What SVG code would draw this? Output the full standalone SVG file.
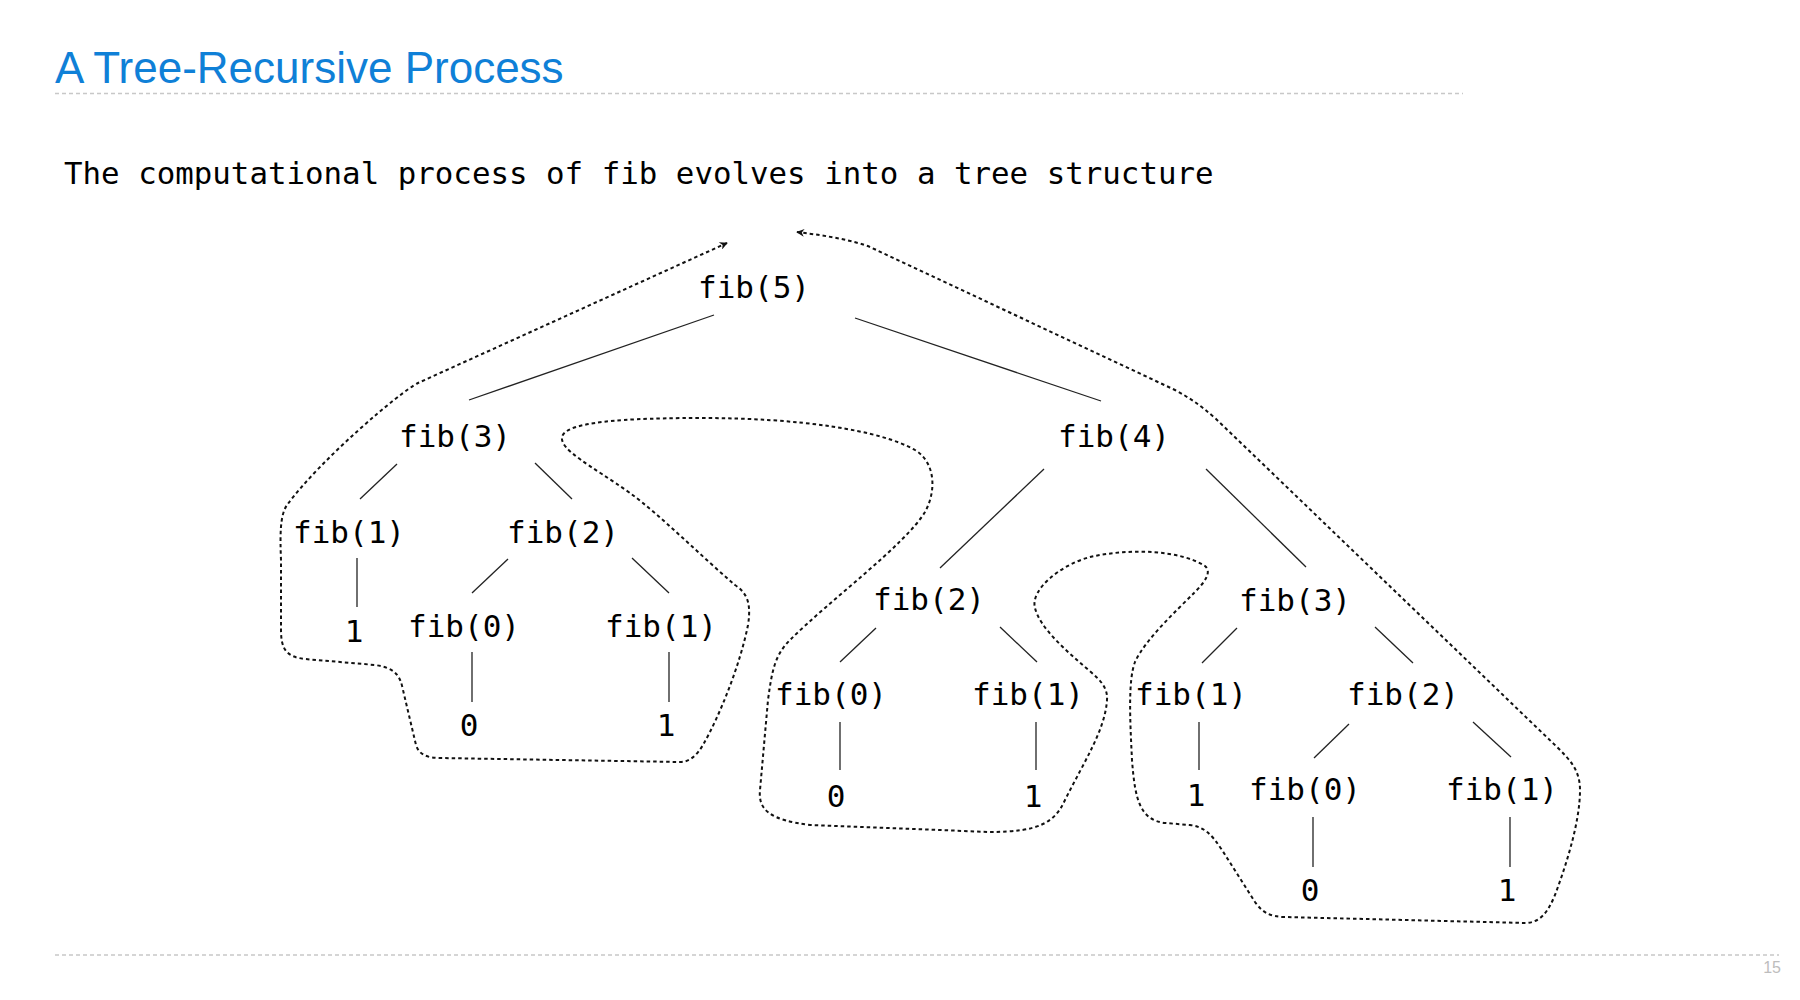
<svg xmlns="http://www.w3.org/2000/svg" width="1800" height="1000" viewBox="0 0 1800 1000">
<defs>
<style>
.title{font-family:"Liberation Sans",Arial,sans-serif;font-size:44px;fill:#0f80d7}
.mono{font-family:"DejaVu Sans Mono","Liberation Mono",monospace;font-size:30.8px;fill:#000}
.node text{font-family:"DejaVu Sans Mono","Liberation Mono",monospace;font-size:31px;fill:#000;text-anchor:middle}
.edge{stroke:#222;stroke-width:1.3;fill:none}
.rule{stroke:#c8c8c8;stroke-width:1.3;stroke-dasharray:4 3;fill:none}
.trace{stroke:#111;stroke-width:2;stroke-dasharray:3.5 3;fill:none}
.pg{font-family:"Liberation Sans",Arial,sans-serif;font-size:16px;fill:#bdbdbd;text-anchor:end}
</style>
<marker id="ah" viewBox="0 0 10 10" refX="9" refY="5" markerWidth="9" markerHeight="8" markerUnits="userSpaceOnUse" orient="auto-start-reverse">
<path d="M0,0 L10,5 L0,10 L3,5 z" fill="#111"/>
</marker>
</defs>
<rect width="1800" height="1000" fill="#fff"/>
<g id="header">
<text class="title" x="55" y="83">A Tree-Recursive Process</text>
<line class="rule" x1="55" y1="93.5" x2="1463" y2="93.5"/>
<text class="mono" x="64" y="184">The computational process of fib evolves into a tree structure</text>
</g>
<g id="connectors">
<line class="edge" x1="714" y1="315" x2="469" y2="400"/>
<line class="edge" x1="855" y1="318" x2="1101" y2="401"/>
<line class="edge" x1="397" y1="464" x2="360" y2="499"/>
<line class="edge" x1="535" y1="463" x2="572" y2="499"/>
<line class="edge" x1="357" y1="558" x2="357" y2="607"/>
<line class="edge" x1="508" y1="559" x2="472" y2="593"/>
<line class="edge" x1="632" y1="558" x2="669" y2="593"/>
<line class="edge" x1="472" y1="652" x2="472" y2="702"/>
<line class="edge" x1="669" y1="652" x2="669" y2="702"/>
<line class="edge" x1="1044" y1="469" x2="940" y2="568"/>
<line class="edge" x1="1206" y1="469" x2="1306" y2="567"/>
<line class="edge" x1="876" y1="628" x2="840" y2="662"/>
<line class="edge" x1="1000" y1="627" x2="1037" y2="662"/>
<line class="edge" x1="840" y1="722" x2="840" y2="770"/>
<line class="edge" x1="1036" y1="722" x2="1036" y2="770"/>
<line class="edge" x1="1237" y1="628" x2="1202" y2="663"/>
<line class="edge" x1="1375" y1="627" x2="1413" y2="663"/>
<line class="edge" x1="1199" y1="722" x2="1199" y2="770"/>
<line class="edge" x1="1349" y1="724" x2="1314" y2="758"/>
<line class="edge" x1="1473" y1="722" x2="1511" y2="757"/>
<line class="edge" x1="1313" y1="817" x2="1313" y2="867"/>
<line class="edge" x1="1510" y1="817" x2="1510" y2="867"/>
<path id="trace" class="trace" marker-start="url(#ah)" marker-end="url(#ah)" d="M727,243 L418,383 C400,392 320,460 287,505 C280,515 280,535 281,560 L281,630 C281,650 287,657 305,659 L375,665 C395,668 400,675 403,690 L416,745 C419,755 428,758 440,758 L680,762 C690,762 697,755 703,745 C720,715 740,665 748,625 C752,600 745,592 735,585 C700,555 660,515 630,493 C590,465 560,450 562,437 C565,425 600,418 700,418 C800,418 880,430 915,450 C935,462 937,490 925,512 C905,545 830,600 790,640 C775,655 772,670 768,700 L760,790 C758,810 770,820 810,825 L990,832 C1040,832 1055,822 1065,800 C1085,760 1105,730 1107,700 C1108,688 1100,680 1092,673 C1065,650 1040,628 1035,608 C1030,590 1060,565 1090,557 C1130,548 1180,550 1205,566 C1212,572 1205,582 1195,592 C1175,612 1145,640 1135,662 C1128,680 1130,720 1132,760 C1135,800 1140,820 1165,823 L1190,825 C1205,827 1212,835 1222,850 L1255,902 C1262,912 1270,917 1285,917 L1525,923 C1540,923 1548,912 1555,895 C1568,860 1580,820 1580,790 C1580,770 1570,760 1557,747 L1215,418 C1200,405 1190,398 1175,390 L870,247 C855,241 830,236 797,232"/>
</g>
<g id="n-fib5" class="node"><text x="754" y="298">fib(5)</text></g>
<g id="n-fib3a" class="node"><text x="455" y="447">fib(3)</text></g>
<g id="n-fib4" class="node"><text x="1114" y="447">fib(4)</text></g>
<g id="n-fib1a" class="node"><text x="349" y="543">fib(1)</text></g>
<g id="n-fib2a" class="node"><text x="563" y="543">fib(2)</text></g>
<g id="n-v1a" class="node"><text x="354" y="642">1</text></g>
<g id="n-fib0a" class="node"><text x="464" y="637">fib(0)</text></g>
<g id="n-fib1b" class="node"><text x="661" y="637">fib(1)</text></g>
<g id="n-v0a" class="node"><text x="469" y="736">0</text></g>
<g id="n-v1b" class="node"><text x="666" y="736">1</text></g>
<g id="n-fib2b" class="node"><text x="929" y="610">fib(2)</text></g>
<g id="n-fib0b" class="node"><text x="831" y="705">fib(0)</text></g>
<g id="n-fib1c" class="node"><text x="1028" y="705">fib(1)</text></g>
<g id="n-v0b" class="node"><text x="836" y="807">0</text></g>
<g id="n-v1c" class="node"><text x="1033" y="807">1</text></g>
<g id="n-fib3b" class="node"><text x="1295" y="611">fib(3)</text></g>
<g id="n-fib1d" class="node"><text x="1191" y="705">fib(1)</text></g>
<g id="n-fib2c" class="node"><text x="1403" y="705">fib(2)</text></g>
<g id="n-v1d" class="node"><text x="1196" y="806">1</text></g>
<g id="n-fib0c" class="node"><text x="1305" y="800">fib(0)</text></g>
<g id="n-fib1e" class="node"><text x="1502" y="800">fib(1)</text></g>
<g id="n-v0c" class="node"><text x="1310" y="901">0</text></g>
<g id="n-v1e" class="node"><text x="1507" y="901">1</text></g>
<g id="footer">
<line class="rule" x1="55" y1="955" x2="1779" y2="955"/>
<text class="pg" x="1781" y="973">15</text>
</g>
</svg>
